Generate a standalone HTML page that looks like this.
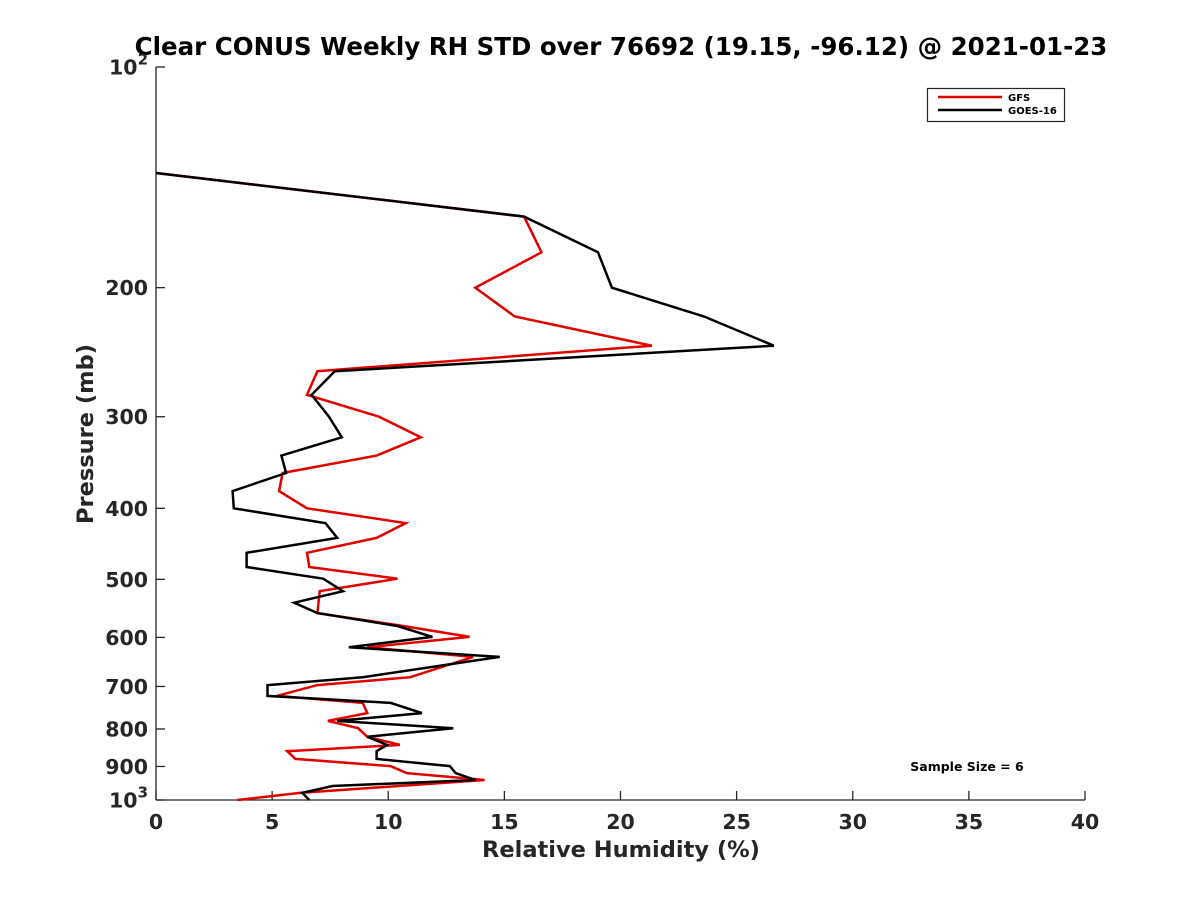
<!DOCTYPE html>
<html><head><meta charset="utf-8"><style>
html,body{margin:0;padding:0;background:#fff;}
svg{display:block;font-family:"DejaVu Sans","Liberation Sans",sans-serif;font-weight:bold;}
</style></head><body>
<svg id="chart" width="1200" height="900" viewBox="0 0 1200 900" xmlns="http://www.w3.org/2000/svg">
<rect x="0" y="0" width="1200" height="900" fill="#fff"/>
<text x="621" y="55" text-anchor="middle" font-size="24.5" fill="#000">Clear CONUS Weekly RH STD over 76692 (19.15, -96.12) @ 2021-01-23</text>
<g id="axes"></g>
<g id="series"></g>
<text x="621" y="857" text-anchor="middle" font-size="22.5" fill="#262626">Relative Humidity (%)</text>
<text transform="translate(93,434) rotate(-90)" text-anchor="middle" font-size="22.5" fill="#262626">Pressure (mb)</text>
<g>
<rect x="927.5" y="88.5" width="137" height="33" fill="#fff" stroke="#262626" stroke-width="1.2"/>
<line x1="938" y1="97" x2="1002" y2="97" stroke="#e00000" stroke-width="2.5"/>
<text x="1008" y="101" font-size="10" fill="#000">GFS</text>
<line x1="938" y1="110" x2="1002" y2="110" stroke="#000" stroke-width="2.5"/>
<text x="1008" y="114" font-size="10" fill="#000">GOES-16</text>
</g>
<text x="967" y="771" text-anchor="middle" font-size="12.5" fill="#000">Sample Size = 6</text>
</svg>
<script>
const xTicks = [0,5,10,15,20,25,30,35,40];
const yTicks = [100,200,300,400,500,600,700,800,900,1000];
const yTickLabels = ["10²","200","300","400","500","600","700","800","900","10³"];
const gfsPressure = [139.5,160,179,200,219,240,260,280,300,320,339,358,379,400,419,439,460,481,499,519,556,579,599,619,638,680,697,721,737,761,780,798,820,841,858,879,899,919,939,978,1000];
const gfsRH = [0,15.85,16.6,13.75,15.45,21.35,6.95,6.5,9.6,11.4,9.5,5.45,5.3,6.5,10.75,9.5,6.5,6.6,10.4,7.05,6.95,10.65,13.5,9.1,13.65,10.95,6.95,5.2,8.9,9.1,7.4,8.7,9.1,10.5,5.65,6.0,10.1,10.8,14.15,6.2,3.5];
const goesPressure = [139.5,160,179,200,219,240,260,280,300,320,339,358,379,400,419,439,460,481,499,519,538,556,579,599,619,638,680,697,721,737,761,780,798,820,841,858,879,899,919,939,957,978,1000];
const goesRH = [0,15.85,19.03,19.63,23.6,26.6,7.7,6.7,7.45,8.0,5.4,5.6,3.3,3.35,7.3,7.8,3.9,3.9,7.2,8.05,5.95,6.95,10.4,11.9,8.3,14.8,8.9,4.8,4.8,10.1,11.45,7.8,12.8,9.1,9.95,9.5,9.5,12.65,12.9,13.75,7.6,6.3,6.6];

const NS="http://www.w3.org/2000/svg";
const X0=156,X1=1085,Y0=67,Y1=800;
function xs(v){return X0+(v-0)/(40-0)*(X1-X0);}
function ys(p){return Y0+(Math.log10(p)-2)/(3-2)*(Y1-Y0);}
function mk(tag,attrs,parent){const e=document.createElementNS(NS,tag);for(const k in attrs)e.setAttribute(k,attrs[k]);parent.appendChild(e);return e;}
const axes=document.getElementById('axes');
const ax=mk('line',{x1:X0,y1:Y0,x2:X0,y2:Y1,stroke:'#262626','stroke-width':1.3},axes);


const bx=mk('line',{x1:X0,y1:Y1,x2:X1,y2:Y1,stroke:'#262626','stroke-width':1.3},axes);


xTicks.forEach(v=>{
  const t=mk('line',{x1:xs(v),y1:Y1,x2:xs(v),y2:Y1-9,stroke:'#262626','stroke-width':1.3},axes);
  
  
  const l=mk('text',{x:xs(v),y:Y1+29,'text-anchor':'middle','font-size':20.5,fill:'#262626'},axes);
  l.textContent=String(v);
  
  
});
yTicks.forEach((v,i)=>{
  const t=mk('line',{x1:X0,y1:ys(v),x2:X0+9,y2:ys(v),stroke:'#262626','stroke-width':1.3},axes);
  
  
  const l=mk('text',{x:X0-8,y:ys(v)+7.5,'text-anchor':'end','font-size':20.5,fill:'#262626'},axes);
  const s=yTickLabels[i];
  if(s.indexOf('²')>=0||s.indexOf('³')>=0){
    const base=mk('tspan',{},l);base.textContent='10';
    const sup=mk('tspan',{dy:-10,'font-size':15},l);sup.textContent=s.indexOf('²')>=0?'2':'3';
  } else l.textContent=s;
  
  
});
const series=document.getElementById('series');
function drawLine(rh,pr,color,name){
  const pts=rh.map((v,i)=>xs(v).toFixed(1)+','+ys(pr[i]).toFixed(1)).join(' ');
  const pl=mk('polyline',{points:pts,fill:'none',stroke:color,'stroke-width':2.5,'stroke-linejoin':'miter'},series);
  
  
}
drawLine(gfsRH,gfsPressure,'#e00000','gfs-line');
drawLine(goesRH,goesPressure,'#000000','goes-16-line');
</script>
</body></html>
